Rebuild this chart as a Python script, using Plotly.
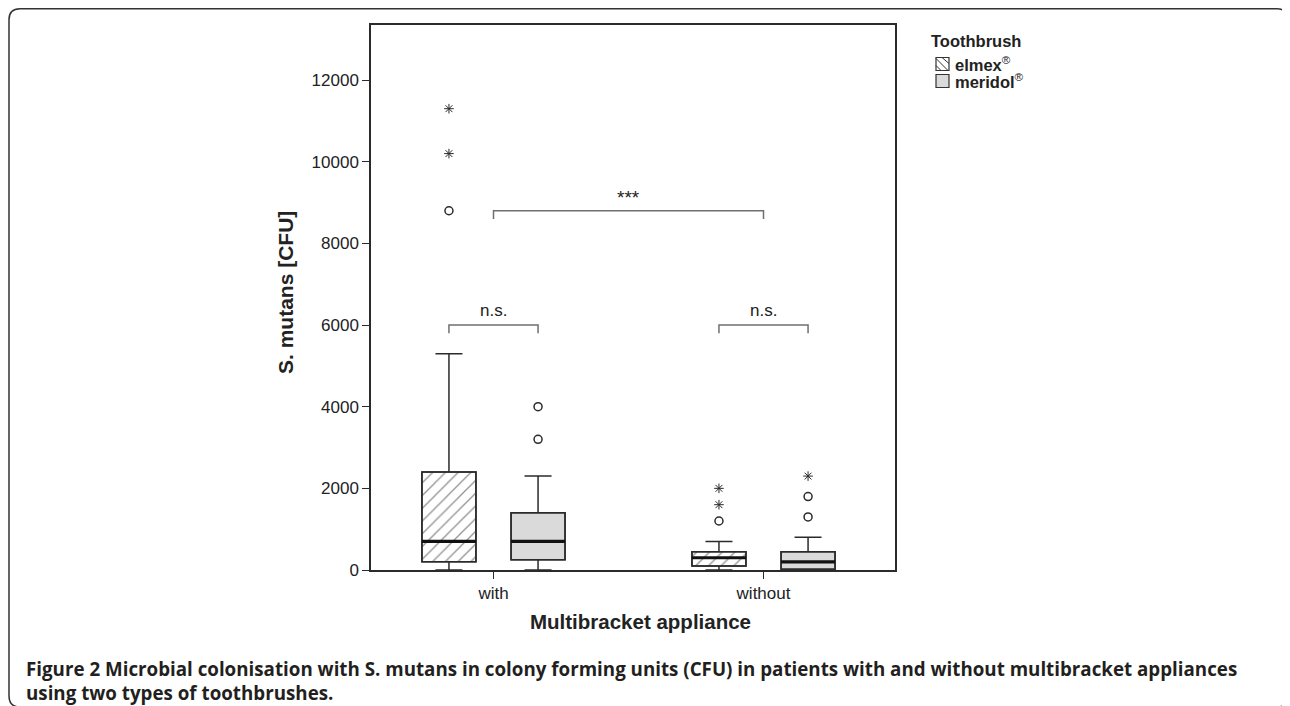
import plotly.graph_objects as go

# ---------------- data ----------------
groups = ["with", "without"]
group_pos = [0, 1]

elmex_q1 = [200, 100]
elmex_median = [700, 300]
elmex_q3 = [2400, 450]
elmex_lower = [0, 0]
elmex_upper = [5300, 700]

meridol_q1 = [250, 20]
meridol_median = [700, 200]
meridol_q3 = [1400, 450]
meridol_lower = [0, 0]
meridol_upper = [2300, 800]

elmex_circles = [[8800], [1200]]
elmex_stars = [[10200, 11300], [1600, 2000]]
meridol_circles = [[3200, 4000], [1300, 1800]]
meridol_stars = [[], [2300]]

y_ticks = [0, 2000, 4000, 6000, 8000, 10000, 12000]
y_tick_labels = ["0", "2000", "4000", "6000", "8000", "10000", "12000"]

legend_title = "Toothbrush"
legend_labels = ["elmex", "meridol"]

# significance brackets: (x0, x1, y, label)
brackets = [
    (-0.165, 0.165, 6000, "n.s."),
    (0.835, 1.165, 6000, "n.s."),
    (0.0, 1.0, 8800, "***"),
]

# ---------------- layout constants ----------------
PAGE_OFF = 8                      # browser body margin
W, H = 1290 - PAGE_OFF, 706 - PAGE_OFF
L, R, T, B = 371, 895, 25, 570    # plot area in page pixels
OFF = 0.165
BW = 0.2
DARK = "#2b2b2b"
GRAY_FILL = "#dadada"
FONT = "Liberation Sans, Arial, sans-serif"
CAP_FONT = "Open Sans, sans-serif"

pw, ph = R - L, B - T
def px(xp):
    return (xp - L) / pw
def py(yp):
    return (B - yp) / ph

elmex_x = [p - OFF for p in group_pos]
meridol_x = [p + OFF for p in group_pos]

fig = go.Figure()

# hatched / filled box bodies
fig.add_trace(go.Bar(
    x=elmex_x, y=[q3 - q1 for q1, q3 in zip(elmex_q1, elmex_q3)], base=elmex_q1,
    width=BW, showlegend=False,
    marker=dict(color="white",
                pattern=dict(shape="/", fgcolor="#222222", bgcolor="white", size=9, solidity=0.14),
                line=dict(color=DARK, width=1.5)),
    hoverinfo="skip"))
fig.add_trace(go.Bar(
    x=meridol_x, y=[q3 - q1 for q1, q3 in zip(meridol_q1, meridol_q3)], base=meridol_q1,
    width=BW, showlegend=False,
    marker=dict(color=GRAY_FILL, line=dict(color=DARK, width=1.5)),
    hoverinfo="skip"))

# box plots (whiskers, outlines)
for xs, q1, med, q3, lo, up in [
    (elmex_x, elmex_q1, elmex_median, elmex_q3, elmex_lower, elmex_upper),
    (meridol_x, meridol_q1, meridol_median, meridol_q3, meridol_lower, meridol_upper),
]:
    for i in range(len(xs)):
        fig.add_trace(go.Box(
            x=[xs[i]], q1=[q1[i]], median=[med[i]], q3=[q3[i]],
            lowerfence=[lo[i]], upperfence=[up[i]],
            width=BW, whiskerwidth=0.5, fillcolor="rgba(0,0,0,0)",
            line=dict(color=DARK, width=1.5), boxpoints=False,
            showlegend=False, hoverinfo="skip"))

# thick median lines
for xs, med in [(elmex_x, elmex_median), (meridol_x, meridol_median)]:
    for i in range(len(xs)):
        fig.add_trace(go.Scatter(
            x=[xs[i] - BW / 2, xs[i] + BW / 2], y=[med[i], med[i]],
            mode="lines", line=dict(color="#111111", width=3.2),
            showlegend=False, hoverinfo="skip"))

# outliers
for xs, circ, star in [(elmex_x, elmex_circles, elmex_stars),
                       (meridol_x, meridol_circles, meridol_stars)]:
    for i in range(len(xs)):
        if circ[i]:
            fig.add_trace(go.Scatter(
                x=[xs[i]] * len(circ[i]), y=circ[i], mode="markers",
                marker=dict(symbol="circle-open", size=8, color=DARK, line=dict(width=1.5)),
                showlegend=False, hoverinfo="skip"))
        if star[i]:
            fig.add_trace(go.Scatter(
                x=[xs[i]] * len(star[i]), y=star[i], mode="markers",
                marker=dict(symbol="asterisk-open", size=8, color=DARK, line=dict(width=1.0, color=DARK)),
                showlegend=False, hoverinfo="skip"))

shapes = []
annotations = []

# significance brackets
TICK_DY = 200
for x0, x1, yb, lab in brackets:
    shapes.append(dict(type="path", xref="x", yref="y",
                       path=f"M{x0},{yb - TICK_DY} L{x0},{yb} L{x1},{yb} L{x1},{yb - TICK_DY}",
                       line=dict(color="#6f6f6f", width=1.5)))
    annotations.append(dict(x=(x0 + x1) / 2, y=yb, xref="x", yref="y", text=lab,
                            showarrow=False, xanchor="center", yanchor="bottom",
                            yshift=3 if lab != "***" else 1,
                            font=dict(family=FONT, size=17 if lab != "***" else 19, color="#222222")))

# outer rounded frame (page pixel coords -> paper)
fx0, fx1, fy0, fy1 = 9, 1288, 8.8, 707
r = 11
frame = (f"M{px(fx0)},{py(fy1 - r)} L{px(fx0)},{py(fy0 + r)} "
         f"Q{px(fx0)},{py(fy0)} {px(fx0 + r)},{py(fy0)} "
         f"L{px(fx1 - r)},{py(fy0)} Q{px(fx1)},{py(fy0)} {px(fx1)},{py(fy0 + r)} "
         f"L{px(fx1)},{py(fy1 - r)} Q{px(fx1)},{py(fy1)} {px(fx1 - r)},{py(fy1)} "
         f"L{px(fx0 + r)},{py(fy1)} Q{px(fx0)},{py(fy1)} {px(fx0)},{py(fy1 - r)}")
shapes.append(dict(type="path", xref="paper", yref="paper", path=frame,
                   line=dict(color="#333333", width=1.5), layer="below"))

# manual legend
annotations.append(dict(x=px(929), y=py(41), xref="paper", yref="paper", xanchor="left", yanchor="middle",
                        text=f"<b>{legend_title}</b>", showarrow=False,
                        font=dict(family=FONT, size=16.5, color="#222222")))
sq = 13
leg_rows = [64, 81]
for k, (lab, yc) in enumerate(zip(legend_labels, leg_rows)):
    x0, x1 = 936, 936 + sq
    y0, y1 = yc - sq / 2, yc + sq / 2
    shapes.append(dict(type="rect", xref="paper", yref="paper",
                       x0=px(x0), x1=px(x1), y0=py(y1), y1=py(y0),
                       fillcolor="white" if k == 0 else GRAY_FILL,
                       line=dict(color="#333333", width=1.2)))
    if k == 0:
        hatch = (f"M{px(x0)},{py(y1 - 5)} L{px(x0 + 5)},{py(y1)} "
                 f"M{px(x0)},{py(y0 + 1)} L{px(x1 - 1)},{py(y1)} "
                 f"M{px(x0 + 6)},{py(y0)} L{px(x1)},{py(y0 + 6)}")
        shapes.append(dict(type="path", xref="paper", yref="paper", path=hatch,
                           line=dict(color="#333333", width=1)))
    annotations.append(dict(x=px(953), y=py(yc), xref="paper", yref="paper", xanchor="left", yanchor="middle",
                            text=f"<b>{lab}</b><sup>®</sup>", showarrow=False,
                            font=dict(family=FONT, size=16.5, color="#222222")))

# axis titles
annotations.append(dict(x=px(285), y=py(293), xref="paper", yref="paper",
                        xanchor="center", yanchor="middle",
                        text="<b>S. mutans [CFU]</b>", textangle=-90, showarrow=False,
                        font=dict(family=FONT, size=21, color="#222222")))
annotations.append(dict(x=px(640), y=py(621), xref="paper", yref="paper",
                        xanchor="center", yanchor="middle",
                        text="<b>Multibracket appliance</b>", showarrow=False,
                        font=dict(family=FONT, size=20.5, color="#222222")))

# caption
annotations.append(dict(x=px(24), y=py(668), xref="paper", yref="paper", xanchor="left", yanchor="middle",
                        text="<b>Figure 2 Microbial colonisation with S. mutans in colony forming units (CFU) in patients with and without multibracket appliances</b>",
                        showarrow=False, font=dict(family=CAP_FONT, size=18.75, color="#231f20")))
annotations.append(dict(x=px(24), y=py(692), xref="paper", yref="paper", xanchor="left", yanchor="middle",
                        text="<b>using two types of toothbrushes.</b>",
                        showarrow=False, font=dict(family=CAP_FONT, size=18.75, color="#231f20")))

fig.update_layout(
    width=W, height=H,
    margin=dict(l=L - PAGE_OFF, r=W - (R - PAGE_OFF), t=T - PAGE_OFF, b=H - (B - PAGE_OFF), pad=0),
    paper_bgcolor="white", plot_bgcolor="white",
    barmode="overlay", showlegend=False,
    shapes=shapes, annotations=annotations,
    font=dict(family=FONT, size=17, color="#222222"),
    xaxis=dict(range=[-0.4537, 1.487], tickmode="array", tickvals=group_pos, ticktext=groups,
               showline=True, linecolor=DARK, linewidth=1.5, mirror=True,
               ticks="outside", ticklen=7, tickcolor=DARK, showgrid=False, zeroline=False,
               tickfont=dict(size=17, family=FONT)),
    yaxis=dict(range=[0, 13350], tickmode="array", tickvals=y_ticks, ticktext=y_tick_labels,
               showline=True, linecolor=DARK, linewidth=1.5, mirror=True,
               ticks="outside", ticklen=7, tickcolor=DARK, showgrid=False, zeroline=False,
               tickfont=dict(size=17, family=FONT)),
)

fig.write_html("out.html")
